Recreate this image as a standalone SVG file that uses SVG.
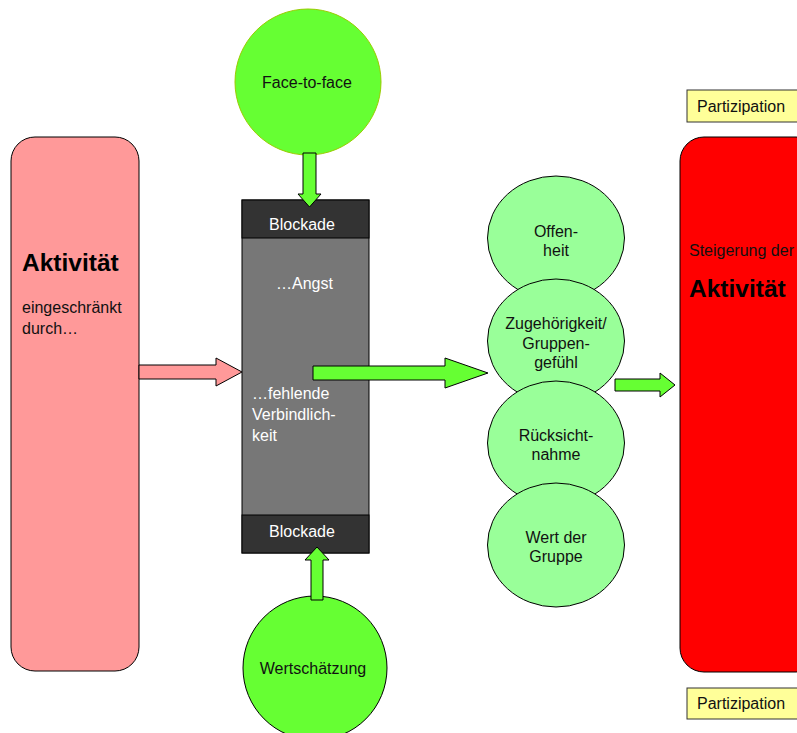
<svg xmlns="http://www.w3.org/2000/svg" width="797" height="733" viewBox="0 0 797 733">
<style>
text{font-family:"Liberation Sans",Arial,sans-serif;font-size:16px;fill:#111}
.w{fill:#fff}
.b{font-weight:bold;font-size:24.5px;fill:#000}
.c{text-anchor:middle}
.lg{fill:#99FF99;stroke:#000;stroke-width:1}
.arr{stroke:#000;stroke-width:1}
</style>
<rect width="797" height="733" fill="#fff"/>
<g id="aktivitaet-left">
<rect x="11" y="137" width="128" height="534" rx="24" fill="#FF9999" stroke="#000"/>
<text x="22" y="271" class="b">Aktivität</text>
<text x="22" y="313">eingeschränkt</text>
<text x="22" y="334">durch…</text>
</g>
<g id="blockade">
<rect x="242" y="200" width="127" height="353" fill="#777" stroke="#000"/>
<rect x="242" y="200" width="127" height="38" fill="#333" stroke="#000"/>
<rect x="242" y="515" width="127" height="38" fill="#333" stroke="#000"/>
<text x="302" y="230" class="w c">Blockade</text>
<text x="302" y="537" class="w c">Blockade</text>
<text x="276" y="289" class="w">…Angst</text>
<text x="252" y="399" class="w">…fehlende</text>
<text x="252" y="420" class="w">Verbindlich-</text>
<text x="252" y="441" class="w">keit</text>
</g>
<g id="face-to-face">
<circle cx="308" cy="82" r="73" fill="#66FF33" stroke="#99CC00"/>
<text x="307" y="88" class="c">Face-to-face</text>
</g>
<g id="wertschaetzung">
<circle cx="315" cy="668" r="72" fill="#66FF33" stroke="#000"/>
<text x="313" y="674" class="c">Wertschätzung</text>
</g>
<g id="offenheit">
<ellipse class="lg" cx="556" cy="238" rx="68.5" ry="62"/>
<text x="556" y="237" class="c">Offen-</text>
<text x="556" y="256" class="c">heit</text>
</g>
<g id="zugehoerigkeit">
<ellipse class="lg" cx="556" cy="341" rx="68.5" ry="62"/>
<text x="556" y="329" class="c">Zugehörigkeit/</text>
<text x="556" y="349" class="c">Gruppen-</text>
<text x="556" y="368" class="c">gefühl</text>
</g>
<g id="ruecksichtnahme">
<ellipse class="lg" cx="556" cy="443" rx="68.5" ry="62"/>
<text x="556" y="441" class="c">Rücksicht-</text>
<text x="556" y="460" class="c">nahme</text>
</g>
<g id="wert-der-gruppe">
<ellipse class="lg" cx="556" cy="545" rx="68.5" ry="62"/>
<text x="556" y="543" class="c">Wert der</text>
<text x="556" y="562" class="c">Gruppe</text>
</g>
<g id="aktivitaet-right">
<rect x="680" y="137" width="140" height="535" rx="24" fill="#FF0000" stroke="#000"/>
<text x="689" y="256">Steigerung der</text>
<text x="689" y="297" class="b">Aktivität</text>
</g>
<g id="partizipation-top">
<rect x="687" y="90" width="120" height="32" fill="#FFFF99" stroke="#333"/>
<text x="697" y="112">Partizipation</text>
</g>
<g id="partizipation-bottom">
<rect x="687" y="688" width="120" height="31" fill="#FFFF99" stroke="#333"/>
<text x="697" y="709">Partizipation</text>
</g>
<g id="connectors">
<path class="arr" fill="#FF9999" d="M139,365 H216 V358 L242,372 L216,386 V379 H139 Z"/>
<path class="arr" fill="#66FF33" d="M313,366 H445 V358 L488,373 L445,388 V380 H313 Z"/>
<path class="arr" fill="#66FF33" d="M303,153 V194 H298 L309.5,207 L321,194 H316 V153 Z"/>
<path class="arr" fill="#66FF33" d="M311,600 V560 H305 L317,547 L329,560 H323 V600 Z"/>
<path class="arr" fill="#66FF33" d="M615,379 H660 V373 L675,385 L660,397 V391 H615 Z"/>
</g>
</svg>
